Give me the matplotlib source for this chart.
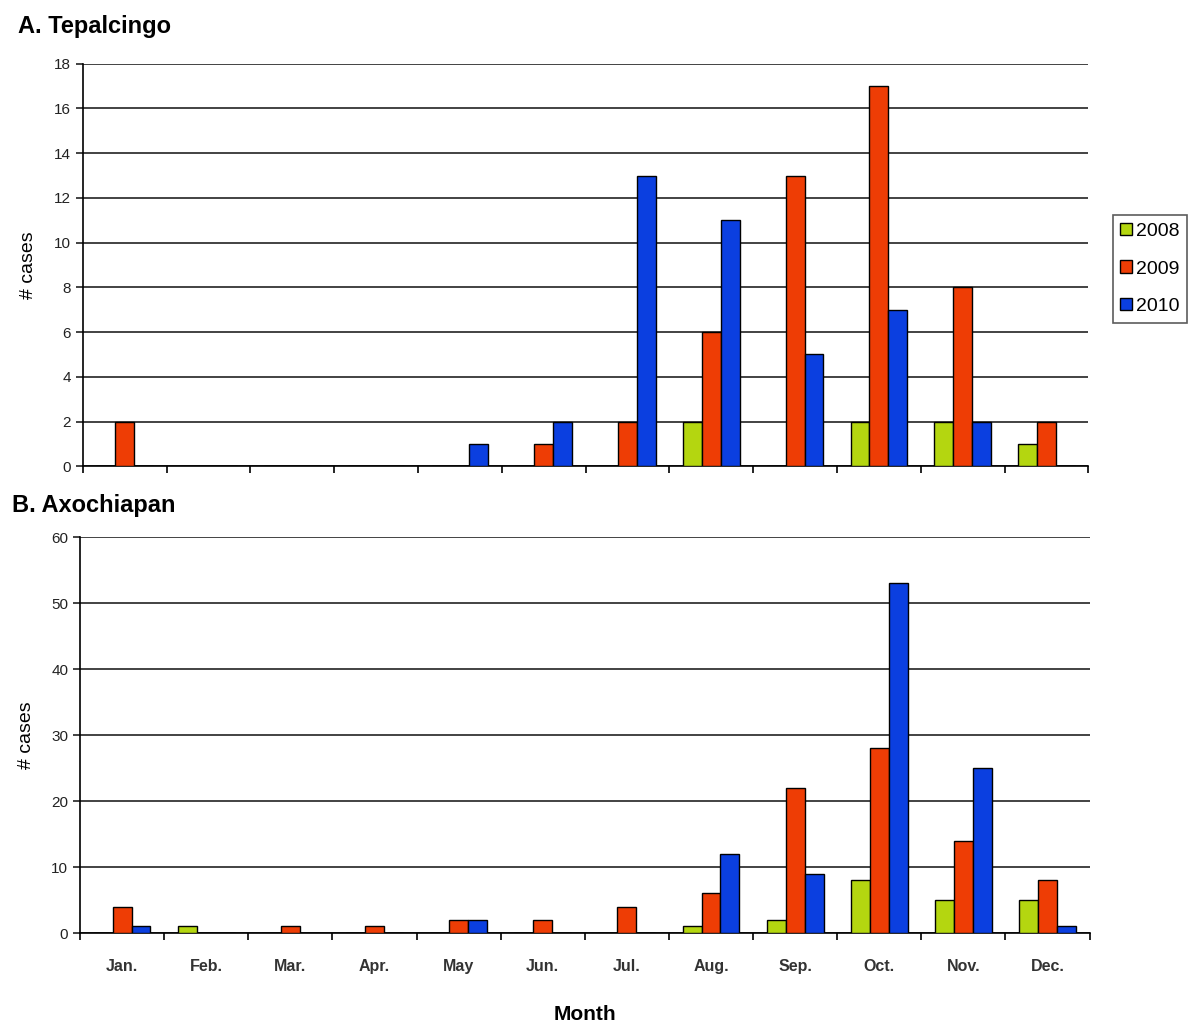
import matplotlib
matplotlib.use("Agg")
import matplotlib.pyplot as plt
import numpy as np

plt.rcParams['font.family'] = ['Liberation Sans', 'DejaVu Sans']

months = ["Jan.", "Feb.", "Mar.", "Apr.", "May", "Jun.", "Jul.", "Aug.", "Sep.", "Oct.", "Nov.", "Dec."]
years = ["2008", "2009", "2010"]
colors = ["#b4d610", "#ee3d05", "#0b3fe0"]

# A. Tepalcingo
tep_2008 = [0, 0, 0, 0, 0, 0, 0, 2, 0, 2, 2, 1]
tep_2009 = [2, 0, 0, 0, 0, 1, 2, 6, 13, 17, 8, 2]
tep_2010 = [0, 0, 0, 0, 1, 2, 13, 11, 5, 7, 2, 0]

# B. Axochiapan
axo_2008 = [0, 1, 0, 0, 0, 0, 0, 1, 2, 8, 5, 5]
axo_2009 = [4, 0, 1, 1, 2, 2, 4, 6, 22, 28, 14, 8]
axo_2010 = [1, 0, 0, 0, 2, 0, 0, 12, 9, 53, 25, 1]

fig = plt.figure(figsize=(12, 10.27), dpi=100)
ax1 = fig.add_axes([0.069, 0.546, 0.838, 0.392])
ax2 = fig.add_axes([0.0667, 0.0915, 0.8413, 0.3855])

x = np.arange(len(months))
w = 0.225


def draw(ax, series, ymax, ystep, show_xlabels):
    for i, (vals, c, lab) in enumerate(zip(series, colors, years)):
        ax.bar(x + (i - 1) * w, vals, w, color=c, edgecolor="black", linewidth=1.0,
               label=lab, zorder=3)
    ax.set_xlim(-0.5, len(months) - 0.5)
    ax.set_ylim(0, ymax)
    ax.set_yticks(np.arange(0, ymax + 1, ystep))
    ax.yaxis.grid(True, color="#222222", linewidth=1.2, zorder=0)
    ax.set_axisbelow(True)
    for s in ["top", "right"]:
        ax.spines[s].set_visible(False)
    ax.spines["left"].set_linewidth(1.2)
    ax.spines["bottom"].set_linewidth(1.2)
    ax.set_xticks(np.arange(-0.5, len(months), 1.0))
    ax.set_xticklabels([])
    ax.set_xticks(x, minor=True)
    ax.tick_params(axis="x", which="major", length=5, width=1.2, direction="out")
    ax.tick_params(axis="x", which="minor", length=0, pad=19)
    if show_xlabels:
        ax.set_xticklabels(months, minor=True, fontsize=11.5, fontweight="bold", color="#333333")
    ax.tick_params(axis="y", length=5, width=1.2, labelsize=11, colors="#222222")
    ax.set_ylabel("# cases", fontsize=14, labelpad=12)


draw(ax1, [tep_2008, tep_2009, tep_2010], 18, 2, False)
draw(ax2, [axo_2008, axo_2009, axo_2010], 60, 10, True)
ax2.set_xlabel("Month", fontsize=15, fontweight="bold", labelpad=22)

leg = ax1.legend(loc="center left", bbox_to_anchor=(1.024, 0.49), fontsize=14,
                 frameon=True, fancybox=False, edgecolor="#333333",
                 handlelength=0.6, handleheight=0.6, handletextpad=0.2,
                 labelspacing=1.05, borderpad=0.4, borderaxespad=0)
leg.get_frame().set_linewidth(1.2)

fig.text(0.015, 0.974, "A. Tepalcingo", fontsize=17, fontweight="bold", va="center")
fig.text(0.01, 0.508, "B. Axochiapan", fontsize=17, fontweight="bold", va="center")

fig.savefig("out.png", dpi=100)
